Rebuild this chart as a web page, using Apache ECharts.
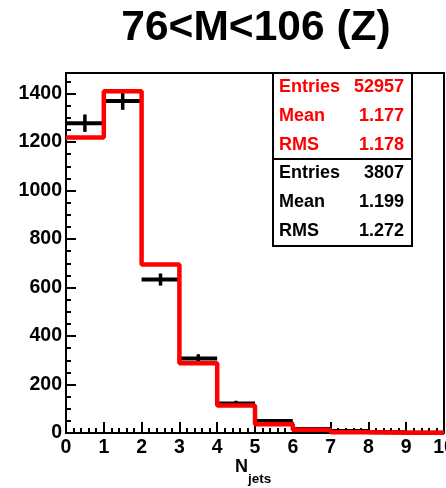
<!DOCTYPE html>
<html>
<head>
<meta charset="utf-8">
<script src="https://cdn.jsdelivr.net/npm/echarts@6/dist/echarts.min.js"></script>
<style>
html,body{margin:0;padding:0;background:#fff;}
#c{width:446px;height:488px;}
</style>
</head>
<body>
<div id="c"></div>
<script>
// Bin low edges (N_jets), data counts (black), errors, MC (red, normalized)
const binEdges = [0, 1, 2, 3, 4, 5, 6, 7, 8, 9, 10];
const dataCounts = [1278, 1370, 633, 307, 122, 49, 17, 8, 3, 1];
const dataErrors = [36, 37, 25, 18, 11, 7, 4, 3, 2, 1];
const mcCounts = [1219, 1410, 695, 288, 113, 36, 13, 3, 1, 1];
const yTickStep = 200;
const yMax = 1485;
const titleText = '76<M<106 (Z)';
const statsMC = [['Entries', '52957'], ['Mean', '1.177'], ['RMS', '1.178']];
const statsData = [['Entries', '3807'], ['Mean', '1.199'], ['RMS', '1.272']];

const FONT = '"Liberation Sans", Arial, Helvetica, sans-serif';

const chart = echarts.init(document.getElementById('c'), null, {renderer: 'canvas'});

// step line data for MC
const mcStep = mcCounts.map((v, i) => [binEdges[i], v]);
mcStep.push([binEdges[binEdges.length - 1], mcCounts[mcCounts.length - 1]]);

const dataItems = dataCounts.map((v, i) => [binEdges[i], binEdges[i + 1], v, dataErrors[i]]);

const statsGraphics = [];
const boxL = 273, boxR = 412, boxT = 73, boxM = 159, boxB = 246;
statsGraphics.push({type: 'rect', z: 100, shape: {x: boxL, y: boxT, width: boxR - boxL, height: boxM - boxT},
  style: {fill: '#fff', stroke: '#000', lineWidth: 2}});
statsGraphics.push({type: 'rect', z: 100, shape: {x: boxL, y: boxM, width: boxR - boxL, height: boxB - boxM},
  style: {fill: '#fff', stroke: '#000', lineWidth: 2}});
const rowY = [87, 116, 145, 173.5, 202, 231];
const allRows = statsMC.map(r => [r, '#ff0000']).concat(statsData.map(r => [r, '#000000']));
allRows.forEach((rc, i) => {
  const [r, col] = rc;
  statsGraphics.push({type: 'text', z: 101, x: 279, y: rowY[i],
    style: {text: r[0], fill: col, font: 'bold 18px ' + FONT, textAlign: 'left', textVerticalAlign: 'middle'}});
  statsGraphics.push({type: 'text', z: 101, x: 404, y: rowY[i],
    style: {text: r[1], fill: col, font: 'bold 18px ' + FONT, textAlign: 'right', textVerticalAlign: 'middle'}});
});

const option = {
  animation: false,
  backgroundColor: '#fff',
  grid: {left: 66, right: 2, top: 73, bottom: 55, show: true, borderColor: '#000', borderWidth: 2,
    backgroundColor: 'transparent', containLabel: false, outerBoundsMode: 'none'},
  xAxis: {
    type: 'value', min: 0, max: 10, interval: 1,
    axisLine: {show: true, onZero: false, lineStyle: {color: '#000', width: 2}},
    axisTick: {show: true, inside: true, length: 11, lineStyle: {color: '#000', width: 2}},
    minorTick: {show: true, splitNumber: 5, length: 5, lineStyle: {color: '#000', width: 2}},
    splitLine: {show: false},
    axisLabel: {color: '#000', fontFamily: FONT, fontWeight: 'bold', fontSize: 19.5, margin: 5,
      hideOverlap: false, formatter: v => String(v)}
  },
  yAxis: [{
    type: 'value', min: 0, max: yMax, interval: yTickStep,
    axisLine: {show: true, onZero: false, lineStyle: {color: '#000', width: 2}},
    axisTick: {show: true, inside: true, length: 10, lineStyle: {color: '#000', width: 2}},
    splitLine: {show: false},
    axisLabel: {color: '#000', fontFamily: FONT, fontWeight: 'bold', fontSize: 19.5, margin: 4,
      showMaxLabel: false,
      formatter: v => (v % yTickStep === 0 ? String(v) : '')}
  }, {
    type: 'value', min: 0, max: yMax, interval: yTickStep / 4, position: 'left',
    axisLine: {show: false},
    axisTick: {show: true, inside: true, length: 5, lineStyle: {color: '#000', width: 2}},
    splitLine: {show: false},
    axisLabel: {show: false}
  }],
  series: [
    {
      type: 'custom',
      z: 2,
      renderItem: function (params, api) {
        const x0 = api.value(0), x1 = api.value(1), v = api.value(2), e = api.value(3);
        const pL = api.coord([x0, v]);
        const pR = api.coord([x1, v]);
        const pLo = api.coord([(x0 + x1) / 2, Math.max(v - e, 0)]);
        const pHi = api.coord([(x0 + x1) / 2, v + e]);
        return {
          type: 'group',
          children: [
            {type: 'line', shape: {x1: pL[0], y1: pL[1], x2: pR[0], y2: pR[1]}, style: {stroke: '#000', lineWidth: 4}},
            {type: 'line', shape: {x1: pLo[0], y1: pLo[1], x2: pHi[0], y2: pHi[1]}, style: {stroke: '#000', lineWidth: 3.5}}
          ]
        };
      },
      data: dataItems
    },
    {
      type: 'line',
      z: 3,
      step: 'end',
      symbol: 'none',
      clip: false,
      lineStyle: {color: '#ff0000', width: 4.5},
      data: mcStep
    }
  ],
  graphic: [
    {type: 'text', x: 256, y: 28, z: 100,
      style: {text: titleText, fill: '#000', font: 'bold 42.5px ' + FONT, textAlign: 'center', textVerticalAlign: 'middle'}},
    {type: 'text', x: 235, y: 467, z: 100,
      style: {text: 'N', fill: '#000', font: 'bold 18px ' + FONT, textAlign: 'left', textVerticalAlign: 'middle'}},
    {type: 'text', x: 248, y: 479, z: 100,
      style: {text: 'jets', fill: '#000', font: 'bold 13.5px ' + FONT, textAlign: 'left', textVerticalAlign: 'middle'}}
  ].concat(statsGraphics)
};

chart.setOption(option);
</script>
</body>
</html>
